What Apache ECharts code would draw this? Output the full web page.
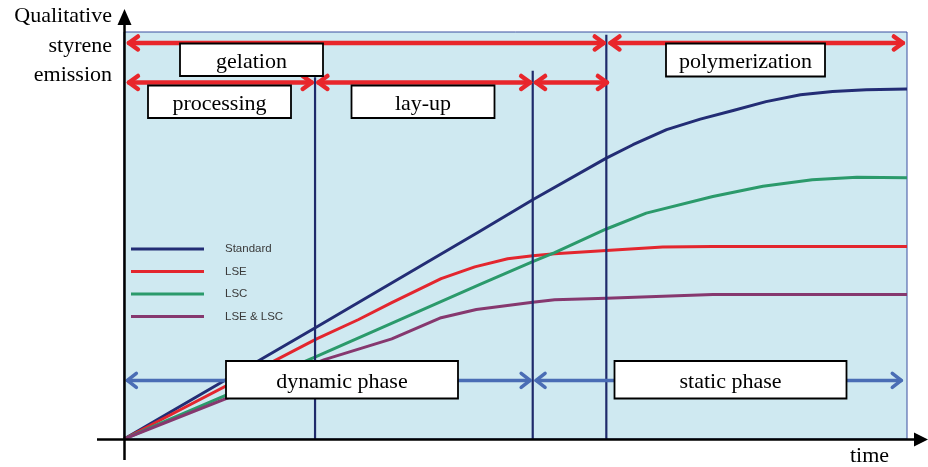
<!DOCTYPE html>
<html><head><meta charset="utf-8">
<script src="https://cdn.jsdelivr.net/npm/echarts@6/dist/echarts.min.js"></script>
<style>html,body{margin:0;padding:0;background:#fff}#c{width:928px;height:467px}</style>
</head><body><div id="c"></div>
<script>
// ---- data (time, qualitative emission), both on 0..100 scales ----
const seriesNames = ['Standard', 'LSE', 'LSC', 'LSE & LSC'];
const standard = [[0,0],[24.6,27.5],[45.4,51.0],[52.2,58.8],[61.6,69.0],[65.0,72.3],[69.3,76.0],[73.6,78.6],[77.8,80.7],[82.0,82.9],[86.4,84.6],[90.5,85.4],[94.8,85.8],[100,86.0]];
const lse = [[0,0],[24.6,24.6],[29.9,29.3],[34.2,33.5],[40.5,39.4],[44.8,42.3],[49.0,44.3],[52.2,45.0],[55.0,45.5],[61.6,46.3],[68.8,47.2],[75.2,47.3],[100,47.3]];
const lsc = [[0,0],[24.6,20.3],[45.4,37.9],[52.2,43.6],[55.0,45.8],[61.6,51.6],[66.7,55.5],[75.2,59.6],[81.6,62.1],[87.9,63.7],[93.6,64.3],[100,64.2]];
const lseLsc = [[0,0],[25.6,19.5],[34.2,24.6],[40.5,29.8],[45.0,31.8],[52.2,33.6],[55.0,34.2],[61.6,34.6],[75.2,35.5],[100,35.5]];
// phase boundaries: [time, top of line]
const phaseBounds = [[24.4,88.9],[52.2,90.5],[61.6,99.3]];
// process arrows: [from, to, level]
const redArrows = [[0.5,61.4,97.3],[62.0,99.6,97.3],[0.5,24.1,87.6],[24.7,52.0,87.6],[52.5,61.8,87.6]];
const blueArrows = [[0.3,52.0,14.4],[52.5,99.4,14.4]];
const boxLabels = ['gelation', 'processing', 'lay-up', 'polymerization', 'dynamic phase', 'static phase'];
const yTitle = ['Qualitative', 'styrene', 'emission'];
const xTitle = 'time';

// ---- layout / style ----
const colors = ['#232d75', '#e3262e', '#2b9a6b', '#86386f'];
const boxRects = [[180,43.5,143,32.5],[148,85.5,143,32.5],[351.5,85.5,143,32.5],[666,43.5,159,33],[226,361,232,37.5],[614.5,361,232,37.5]];
const serif = '"Liberation Serif","Times New Roman",serif';

const chart = echarts.init(document.getElementById('c'), null, {renderer: 'canvas'});

function arrowRender(color, lw, ah, aw) {
  return function (params, api) {
    const a = api.coord([api.value(0), api.value(2)]);
    const b = api.coord([api.value(1), api.value(2)]);
    const style = {stroke: color, lineWidth: lw, fill: null, lineCap: 'round', lineJoin: 'round'};
    return {type: 'group', children: [
      {type: 'line', shape: {x1: a[0] + 1, y1: a[1], x2: b[0] - 1, y2: b[1]}, style: style},
      {type: 'polyline', shape: {points: [[a[0] + ah, a[1] - aw], [a[0] + 1, a[1]], [a[0] + ah, a[1] + aw]]}, style: style},
      {type: 'polyline', shape: {points: [[b[0] - ah, b[1] - aw], [b[0] - 1, b[1]], [b[0] - ah, b[1] + aw]]}, style: style}
    ]};
  };
}

const dataSets = [standard, lse, lsc, lseLsc];
const lineSeries = seriesNames.map((n, i) => ({
  name: n, type: 'line', data: dataSets[i], showSymbol: false, symbol: 'none',
  smooth: false, z: 2,
  lineStyle: {color: colors[i], width: 3, join: 'round'}, itemStyle: {color: colors[i]}
}));

const graphics = [];
boxRects.forEach((r, i) => {
  graphics.push({type: 'rect', z: 100, shape: {x: r[0], y: r[1], width: r[2], height: r[3]},
    style: {fill: '#fff', stroke: '#000', lineWidth: 1.8}});
  graphics.push({type: 'text', z: 101, x: r[0] + r[2] / 2, y: r[1] + r[3] / 2 + 2,
    style: {text: boxLabels[i], fill: '#000', font: '22px ' + serif, align: 'center', verticalAlign: 'middle'}});
});
// axes with arrows
graphics.push({type: 'line', z: 90, shape: {x1: 124.5, y1: 20, x2: 124.5, y2: 460}, style: {stroke: '#000', lineWidth: 2.5}});
graphics.push({type: 'polygon', z: 90, shape: {points: [[124.5, 9], [117.5, 25], [131.5, 25]]}, style: {fill: '#000'}});
graphics.push({type: 'line', z: 90, shape: {x1: 97, y1: 439.5, x2: 918, y2: 439.5}, style: {stroke: '#000', lineWidth: 2.5}});
graphics.push({type: 'polygon', z: 90, shape: {points: [[928, 439.5], [914, 432.5], [914, 446.5]]}, style: {fill: '#000'}});
// axis titles
const yTitleY = [16.5, 46, 75];
yTitle.forEach((t, i) => graphics.push({type: 'text', z: 90, x: 112, y: yTitleY[i],
  style: {text: t, fill: '#000', font: '22px ' + serif, align: 'right', verticalAlign: 'middle'}}));
graphics.push({type: 'text', z: 90, x: 869.5, y: 456,
  style: {text: xTitle, fill: '#000', font: '22px ' + serif, align: 'center', verticalAlign: 'middle'}});

chart.setOption({
  animation: false,
  backgroundColor: '#fff',
  grid: {left: 124, right: 21, top: 32, bottom: 28, show: true, backgroundColor: '#cfe9f1', borderColor: '#3a4fa0', borderWidth: 1},
  xAxis: {type: 'value', min: 0, max: 100, axisLine: {show: false}, axisTick: {show: false}, axisLabel: {show: false}, splitLine: {show: false}},
  yAxis: {type: 'value', min: 0, max: 100, axisLine: {show: false}, axisTick: {show: false}, axisLabel: {show: false}, splitLine: {show: false}},
  legend: {
    data: seriesNames, orient: 'vertical', left: 126, top: 238, icon: 'rect',
    itemWidth: 73, itemHeight: 3, itemGap: 10.5, selectedMode: false,
    textStyle: {fontFamily: '"Liberation Sans",Arial,sans-serif', fontSize: 11.5, color: '#3a3a3a', padding: [0, 0, 0, 16]}
  },
  series: lineSeries.concat([
    {type: 'custom', name: 'bounds', z: 3, data: phaseBounds, encode: {x: 0, y: 1},
      renderItem: function (params, api) {
        const p0 = api.coord([api.value(0), 0]);
        const p1 = api.coord([api.value(0), api.value(1)]);
        return {type: 'line', shape: {x1: p0[0], y1: p0[1], x2: p1[0], y2: p1[1]}, style: {stroke: '#1f2a6b', lineWidth: 2.2}};
      }},
    {type: 'custom', name: 'red', z: 4, data: redArrows, encode: {x: [0, 1], y: 2}, renderItem: arrowRender('#e8262b', 4.5, 10, 6.5)},
    {type: 'custom', name: 'blue', z: 4, data: blueArrows, encode: {x: [0, 1], y: 2}, renderItem: arrowRender('#4a6db5', 3.5, 10, 7)}
  ]),
  graphic: graphics
});
</script></body></html>
